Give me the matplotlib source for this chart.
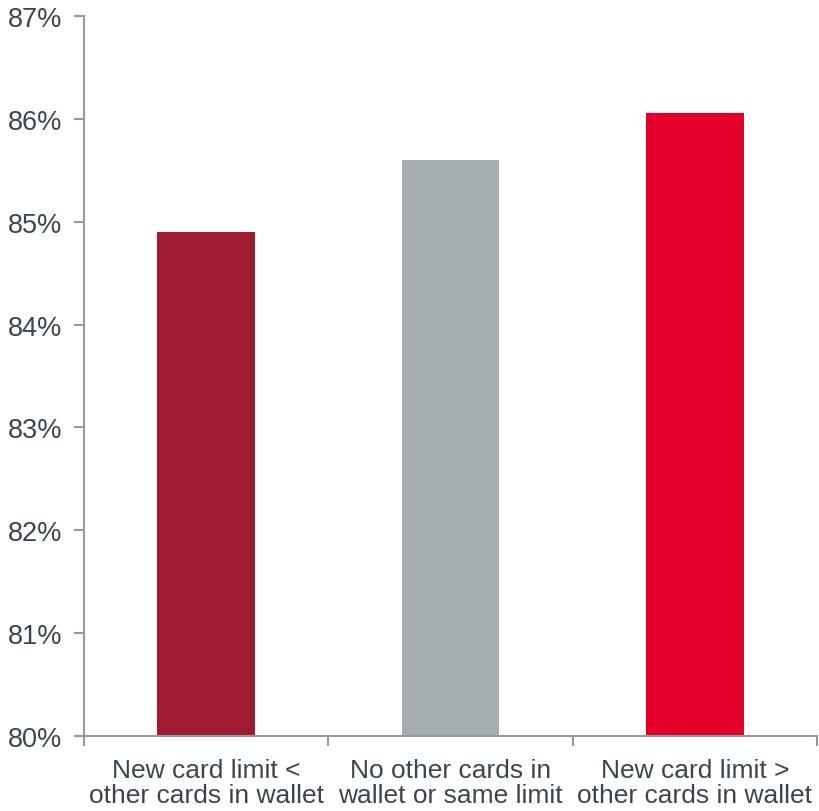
import matplotlib
matplotlib.use("Agg")
import matplotlib.pyplot as plt
from matplotlib.ticker import FixedLocator, FuncFormatter

categories = ["New card limit <\nother cards in wallet",
              "No other cards in\nwallet or same limit",
              "New card limit >\nother cards in wallet"]
values = [84.9, 85.6, 86.06]
colors = ["#9E1B32", "#A5ACAF", "#E4002B"]
yticks = [80, 81, 82, 83, 84, 85, 86, 87]

plt.rcParams['font.family'] = ['Liberation Sans', 'DejaVu Sans']
text_color = "#3C4650"
axis_color = "#999999"

fig = plt.figure(figsize=(8.19, 8.12), dpi=100)
ax = fig.add_axes([84/819, 75/812, (817-84)/819, (737-17)/812])

x = list(range(len(categories)))
ax.bar(x, [v - 80 for v in values], bottom=80, width=0.4, color=colors)

ax.set_xlim(-0.5, len(categories) - 0.5)
ax.set_ylim(80, 87)
ax.set_yticks(yticks)
ax.yaxis.set_major_formatter(FuncFormatter(lambda v, p: f"{v:.0f}%"))

ax.set_xticks(x)
ax.set_xticklabels(categories, linespacing=1.1)
ax.xaxis.set_minor_locator(FixedLocator([i - 0.5 for i in range(len(categories) + 1)]))
ax.tick_params(axis='x', which='major', length=0, pad=15.5, labelsize=19, colors=text_color)
ax.tick_params(axis='x', which='minor', length=7, width=1.5, color=axis_color, direction='out')
ax.tick_params(axis='y', length=7, width=1.5, color=axis_color, labelsize=19.5, labelcolor=text_color, pad=8.5)

for s in ['top', 'right']:
    ax.spines[s].set_visible(False)
for s in ['left', 'bottom']:
    ax.spines[s].set_color(axis_color)
    ax.spines[s].set_linewidth(1.5)

fig.savefig("out.png", dpi=100)
